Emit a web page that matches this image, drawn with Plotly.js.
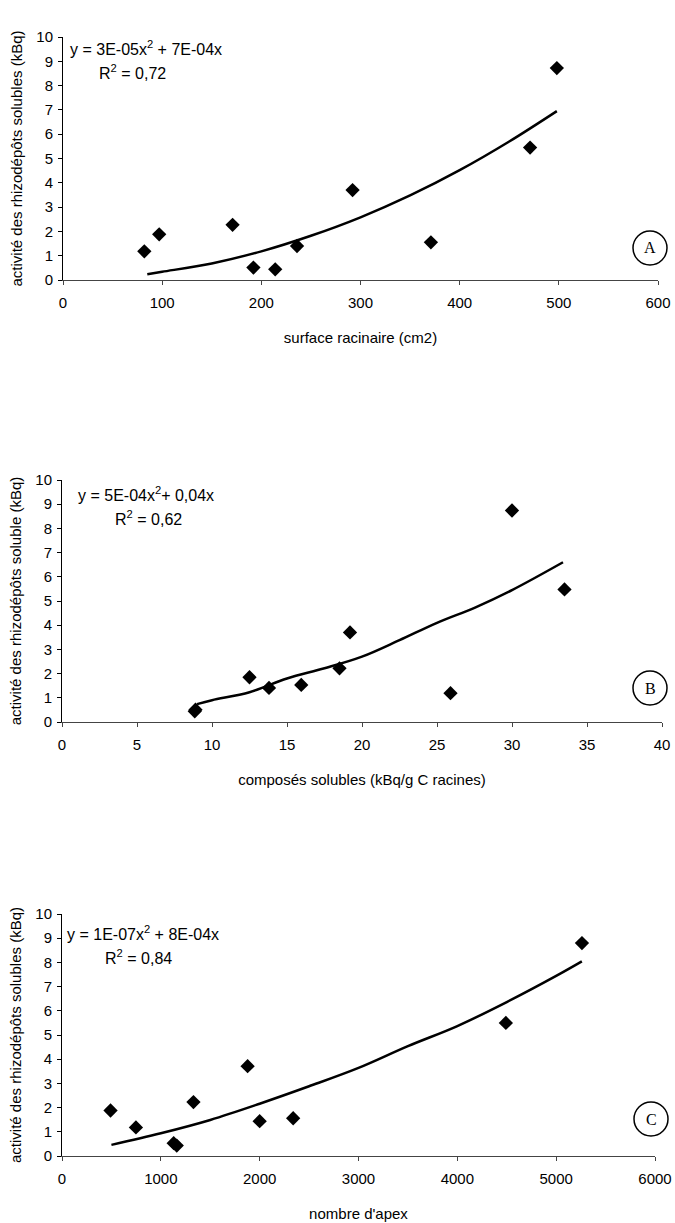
<!DOCTYPE html>
<html>
<head>
<meta charset="utf-8">
<script src="https://cdn.plot.ly/plotly-3.0.1.min.js"></script>
<style>html,body{margin:0;padding:0;background:#fff;}#chart{width:675px;height:1223px;}</style>
</head>
<body>
<div id="chart"></div>
<script>
// Shared response values (kBq)
var activite = [1.18, 1.88, 2.27, 0.51, 0.44, 1.40, 3.70, 1.55, 5.45, 8.72];

// Panel A: surface racinaire (cm2)
var surfaceX = [82, 97, 171, 192, 214, 236, 292, 371, 471, 498];
var surfaceY = activite;
var trendAX = [85, 100, 150, 200, 250, 300, 350, 400, 450, 498];
var trendAY = [0.24, 0.34, 0.68, 1.18, 1.82, 2.58, 3.48, 4.52, 5.70, 6.95];

// Panel B: composés solubles (kBq/g C racines)
var composesX = [8.9, 8.85, 12.5, 13.8, 15.95, 18.5, 19.2, 25.9, 30.0, 33.5];
var composesY = [0.51, 0.44, 1.85, 1.41, 1.53, 2.22, 3.70, 1.19, 8.74, 5.48];
var trendBX = [9, 10, 12.5, 15, 17.5, 20, 22.5, 25, 27.5, 30, 33.4];
var trendBY = [0.74, 0.90, 1.23, 1.80, 2.22, 2.70, 3.38, 4.10, 4.72, 5.45, 6.60];

// Panel C: nombre d'apex
var apexX = [491, 748, 1130, 1161, 1330, 1878, 2000, 2339, 4491, 5261];
var apexY = [1.88, 1.18, 0.53, 0.43, 2.23, 3.71, 1.44, 1.56, 5.50, 8.80];
var trendCX = [500, 1000, 1500, 2000, 2500, 3000, 3500, 4000, 4500, 5000, 5260];
var trendCY = [0.46, 0.94, 1.49, 2.16, 2.88, 3.64, 4.54, 5.37, 6.36, 7.44, 8.04];

var yTitles = ["activité des rhizodépôts solubles (kBq)", "activité des rhizodépôts soluble (kBq)", "activité des rhizodépôts solubles (kBq)"];
var xTitles = ["surface racinaire (cm2)", "composés solubles (kBq/g C racines)", "nombre d'apex"];
var equations = ["y = 3E-05x<sup>2</sup> + 7E-04x", "y = 5E-04x<sup>2</sup>+ 0,04x", "y = 1E-07x<sup>2</sup> + 8E-04x"];
var r2Labels = ["R<sup>2</sup> = 0,72", "R<sup>2</sup> = 0,62", "R<sup>2</sup> = 0,84"];
var panelLetters = ["A", "B", "C"];
var xRanges = [[0, 600], [0, 40], [0, 6000]];
var xDtick = [100, 5, 1000];

var W = 675, H = 1223;
var FONT = "Liberation Sans, Arial, sans-serif";

function px2x(p){ return p / W; }
function px2y(p){ return 1 - p / H; }

// pixel layout of each plot area [left, right, top(y=10), bottom(y=0)]
var boxes = [[63, 658, 37, 280], [62, 662, 480, 722], [62, 655, 914, 1156]];
var eqPos = [[68, 48, 97, 72], [76, 494, 113, 518], [65, 933, 103, 957]];
var letterPx = [[650, 248], [650, 688], [651, 1119]];

var traces = [];
var pts = [[surfaceX, surfaceY], [composesX, composesY], [apexX, apexY]];
var trends = [[trendAX, trendAY], [trendBX, trendBY], [trendCX, trendCY]];

var layout = {
  width: W, height: H,
  margin: {l: 0, r: 0, t: 0, b: 0},
  paper_bgcolor: "#fff", plot_bgcolor: "#fff",
  showlegend: false,
  font: {family: FONT, color: "#000", size: 15},
  annotations: [], shapes: []
};

for (var i = 0; i < 3; i++) {
  var sfx = i === 0 ? "" : String(i + 1);
  var xa = "x" + sfx, ya = "y" + sfx;
  traces.push({
    x: trends[i][0], y: trends[i][1], xaxis: xa, yaxis: ya,
    type: "scatter", mode: "lines",
    line: {color: "#000", width: 2.5, shape: "spline", smoothing: 1},
    hoverinfo: "skip"
  });
  traces.push({
    x: pts[i][0], y: pts[i][1], xaxis: xa, yaxis: ya,
    type: "scatter", mode: "markers",
    marker: {symbol: "diamond", size: 11, color: "#000"}
  });
  var b = boxes[i];
  layout["xaxis" + sfx] = {
    domain: [px2x(b[0]), px2x(b[1])], anchor: ya,
    range: xRanges[i], dtick: xDtick[i], tick0: 0,
    showgrid: false, zeroline: false, showline: true, linecolor: "#444", linewidth: 1,
    ticks: "outside", ticklen: 4, tickcolor: "#444", ticklabelstandoff: 5,
    tickfont: {size: 15, family: FONT},
    title: {text: xTitles[i], font: {size: 15, family: FONT}, standoff: 22},
    automargin: false, fixedrange: true
  };
  layout["yaxis" + sfx] = {
    domain: [px2y(b[3]), px2y(b[2])], anchor: xa,
    range: [0, 10], dtick: 1, tick0: 0,
    showgrid: false, zeroline: false, showline: true, linecolor: "#000", linewidth: 1,
    ticks: "outside", ticklen: 4, tickcolor: "#000", ticklabelstandoff: 2,
    tickfont: {size: 15, family: FONT},
    title: {text: yTitles[i], font: {size: 15, family: FONT}, standoff: 10},
    automargin: false, fixedrange: true
  };
  var e = eqPos[i];
  layout.annotations.push({
    xref: "paper", yref: "paper", x: px2x(e[0]), y: px2y(e[1]),
    xanchor: "left", yanchor: "middle", showarrow: false,
    text: equations[i], font: {size: 16, family: FONT}
  });
  layout.annotations.push({
    xref: "paper", yref: "paper", x: px2x(e[2]), y: px2y(e[3]),
    xanchor: "left", yanchor: "middle", showarrow: false,
    text: r2Labels[i], font: {size: 16, family: FONT}
  });
  var lp = letterPx[i];
  layout.annotations.push({
    xref: "paper", yref: "paper", x: px2x(lp[0]), y: px2y(lp[1]),
    xanchor: "center", yanchor: "middle", showarrow: false,
    text: panelLetters[i], font: {size: 16, family: "Liberation Serif, Times New Roman, serif"}
  });
  layout.shapes.push({
    type: "circle", xref: "paper", yref: "paper",
    xsizemode: "pixel", ysizemode: "pixel",
    xanchor: px2x(lp[0]), yanchor: px2y(lp[1]),
    x0: -17, x1: 17, y0: -17, y1: 17,
    line: {color: "#000", width: 1.5}
  });
}

Plotly.newPlot("chart", traces, layout, {staticPlot: true, displayModeBar: false});
</script>
</body>
</html>
